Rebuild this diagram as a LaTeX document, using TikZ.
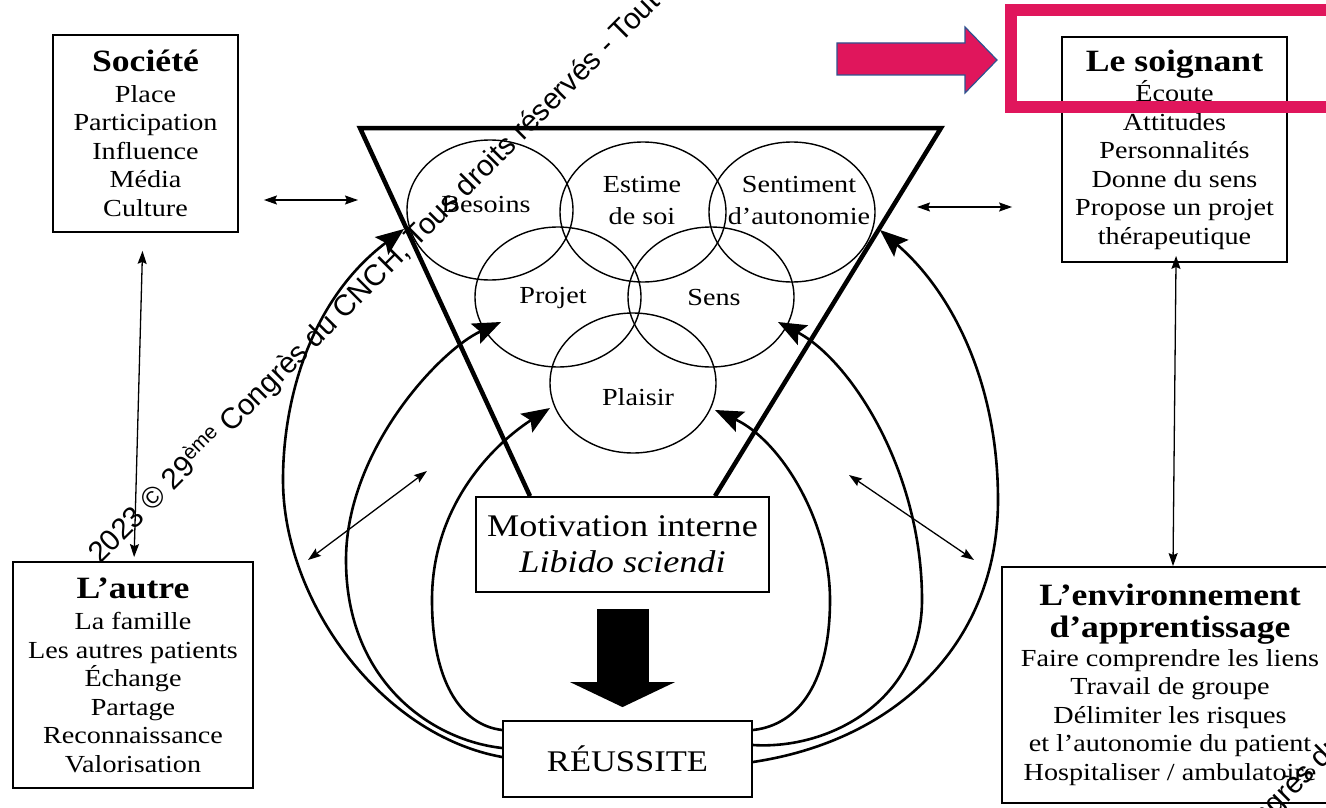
\documentclass[tikz,border=0pt]{standalone}
\usepackage{fontspec}
\setmainfont{Liberation Serif}[FakeStretch=1.15]
\newfontfamily\wmfont{Liberation Sans}
\usetikzlibrary{arrows.meta,shapes.geometric,calc}
\definecolor{hlpink}{RGB}{224,22,92}
\definecolor{hlblue}{RGB}{47,82,143}
\newcommand\txtbody{\fontsize{24.5}{28.5}\selectfont}
\newcommand\txttitle{\bfseries\fontsize{31}{32}\selectfont}
\newcommand\txtmot{\fontsize{31.5}{36}\selectfont}
\newcommand\txtreu{\fontsize{30}{36}\selectfont}
\newcommand\txtwm{\wmfont\fontsize{29.5}{30}\selectfont}
\begin{document}
\begin{tikzpicture}[x=1pt,y=-1pt,
  box/.style={draw, line width=1.8pt, align=center, inner sep=0pt, font=\txtbody},
  bubble/.style={draw, ellipse, line width=1.4pt, minimum width=166pt, minimum height=140pt, inner sep=0pt},
  lbl/.style={inner sep=0pt, align=center, font=\txtbody},
  bigarc/.style={line width=2.6pt, -{Stealth[length=28pt,width=22pt,inset=5pt]}},
  dbl/.style={line width=1.3pt, {Stealth[length=13pt,width=9pt,inset=2pt]}-{Stealth[length=13pt,width=9pt,inset=2pt]}},
  wm/.style={inner sep=0pt, font=\txtwm, text=black}
]
\useasboundingbox (0,0) rectangle (1326,808);
\clip (0,0) rectangle (1326,808);
\fill[white] (0,0) rectangle (1326,808);

% --- the six overlapping bubbles ---
\node[bubble] (besoins)   at (490,210) {};
\node[bubble] (estime)    at (643,212) {};
\node[bubble] (sentiment) at (792,212) {};
\node[bubble] (projet)    at (558,297) {};
\node[bubble] (sens)      at (711,297) {};
\node[bubble] (plaisir)   at (633,383) {};
\node[lbl] (besoins-t)   at (486,205) {Besoins};
\node[lbl] (estime-t)    at (642,201) {Estime\\[3.5pt] de soi};
\node[lbl] (sentiment-t) at (799,201) {Sentiment\\[3.5pt] d'autonomie};
\node[lbl] (projet-t)    at (553,298) {Projet};
\node[lbl] (sens-t)      at (714,298) {Sens};
\node[lbl] (plaisir-t)   at (638,397) {Plaisir};

% --- central boxes ---
\node[box, minimum width=293pt, minimum height=95pt, font=\txtmot] (motiv) at (622.5,544.5)
  {Motivation interne\\ \textit{Libido sciendi}};
\node[box, minimum width=249pt, minimum height=76pt, font=\txtreu] (reussite) at (627.5,759) {RÉUSSITE};

% --- inverted triangle ---
\coordinate (triTL) at (360,128);
\coordinate (triTR) at (941,128);
\draw[line width=4.5pt, line join=miter] (motiv.north -| 530,0) -- (triTL) -- (triTR) -- (motiv.north -| 715,0);

% --- block arrow motivation -> success ---
\draw[line width=52pt, -{Triangle[length=25pt,width=104pt]}]
  ([yshift=-16pt]motiv.south) -- ([yshift=13pt]motiv.south |- reussite.north);

% --- outer boxes ---
\node[box, minimum width=185pt, minimum height=197pt] (societe) at (145.5,133.5)
  {{\txttitle Société}\\[2pt] Place\\ Participation\\ Influence\\ Média\\ Culture};
\node[box, minimum width=225pt, minimum height=225pt] (soignant) at (1174.5,149.5)
  {{\txttitle Le soignant}\\[2pt] Écoute\\ Attitudes\\ Personnalités\\ Donne du sens\\ Propose un projet\\ thérapeutique};
\node[box, minimum width=240pt, minimum height=226pt] (autre) at (133,675)
  {{\txttitle L’autre}\\[3pt] La famille\\ Les autres patients\\ Échange\\ Partage\\ Reconnaissance\\ Valorisation};
\node[box, minimum width=336pt, minimum height=236pt] (env) at (1170,685)
  {{\txttitle L’environnement}\\[3.5pt] {\txttitle d’apprentissage}\\ Faire comprendre les liens\\ Travail de groupe\\ Délimiter les risques\\ et l'autonomie du patient\\ Hospitaliser / ambulatoire};

% --- arcs from success back to the bubbles ---
\coordinate (tA1) at (404,229);
\coordinate (tA2) at (501,322);
\coordinate (tA3) at (550,408);
\coordinate (tB1) at (880,230);
\coordinate (tB2) at (778,322);
\coordinate (tB3) at (715,410);
\draw[bigarc] ([yshift=2pt]reussite.west) .. controls (380,735) and (283,600) .. (283,480)
  .. controls (283,400) and (310,300) .. (tA1);
\draw[bigarc] ([yshift=11pt]reussite.west) .. controls (430,740) and (346,680) .. (346,560)
  .. controls (346,450) and (440,350) .. (tA2);
\draw[bigarc] ([yshift=29pt]reussite.west) .. controls (460,725) and (432,680) .. (432,600)
  .. controls (432,500) and (500,440) .. (tA3);
\draw[bigarc] ([yshift=-3pt]reussite.east) .. controls (900,740) and (998,640) .. (998,500)
  .. controls (998,380) and (950,290) .. (tB1);
\draw[bigarc] ([yshift=14pt]reussite.east) .. controls (830,750) and (922,700) .. (922,600)
  .. controls (922,470) and (850,360) .. (tB2);
\draw[bigarc] ([yshift=29pt]reussite.east) .. controls (800,725) and (830,680) .. (830,600)
  .. controls (830,520) and (780,440) .. (tB3);

% --- thin two-way links ---
\coordinate (triL) at (393,200);
\coordinate (triR) at (893,207);
\draw[dbl, shorten <=25pt, shorten >=35pt] (societe.east |- triL) -- (triL);
\draw[dbl, shorten <=24pt, shorten >=49pt] (triR) -- (soignant.west |- triR);
\draw[dbl, shorten <=18pt, shorten >=4pt] ([xshift=-2.5pt]societe.south) -- ([xshift=1pt]autre.north);
\draw[dbl, shorten <=-7pt] ([xshift=1.5pt]soignant.south) -- ([xshift=3pt]env.north);
\coordinate (dl1) at (308,560);
\coordinate (dl2) at (427,471);
\coordinate (dr1) at (849,475);
\coordinate (dr2) at (974,560);
\draw[dbl] (dl1) -- (dl2);
\draw[dbl] (dr1) -- (dr2);

% --- overprinted notice ---
\node[wm, rotate=45, anchor=base west] (wm1) at (100,565)
  {2023 © 29\textsuperscript{ème} Congrès du CNCH, Tous droits réservés - Toute};
\node[wm, rotate=45, anchor=base west] (wm2) at (1106,985)
  {2023 © 29\textsuperscript{ème} Congrès du CNCH};

% --- highlight frame and pointer ---
\node[draw=hlpink, line width=12pt, minimum width=334pt, minimum height=97pt, inner sep=0pt] (highlight) at (1178,58.5) {};
\filldraw[fill=hlpink, draw=hlblue, line width=1.2pt, line join=miter]
  (837,43) -- (965,43) -- (965,27) -- (997,60) -- (965,93) -- (965,75) -- (837,75) -- cycle;
\end{tikzpicture}
\end{document}
